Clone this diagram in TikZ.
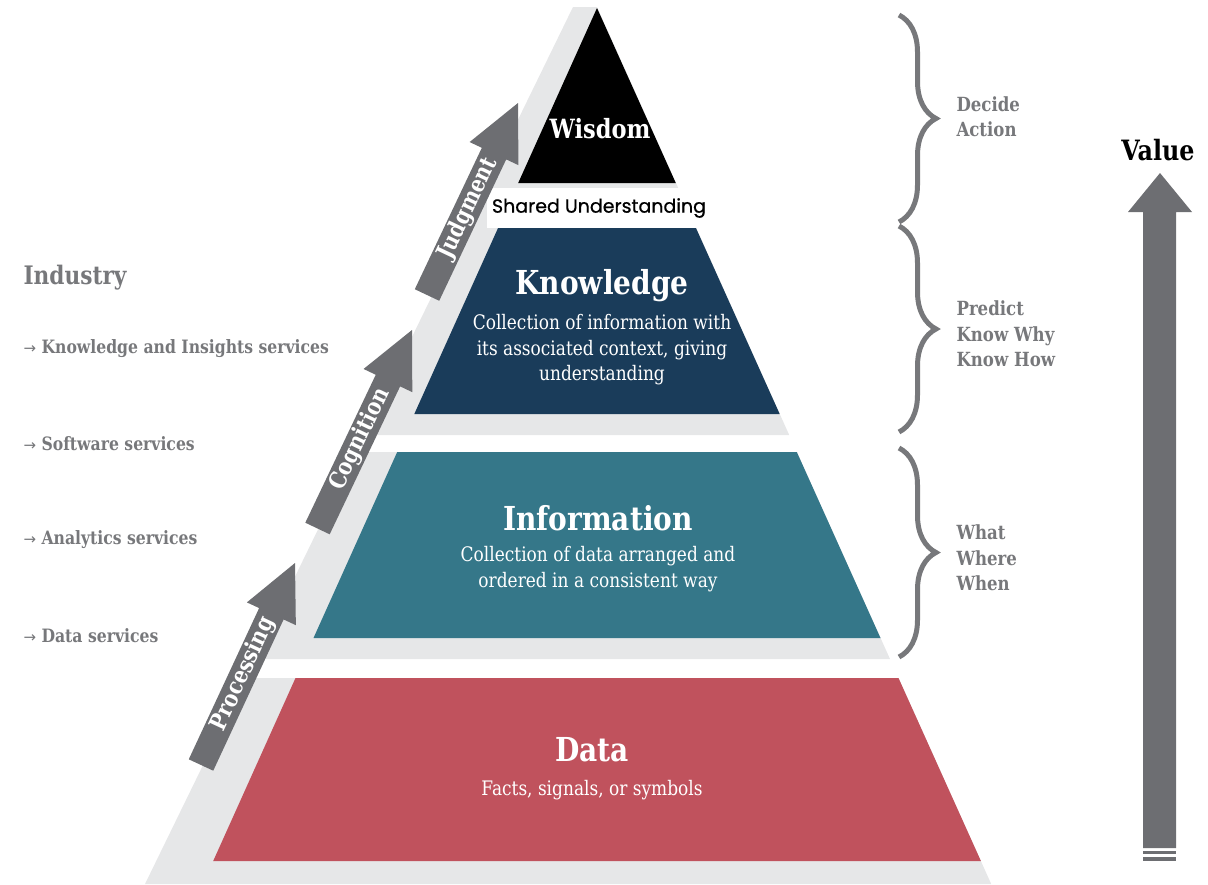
\documentclass[tikz,border=0pt]{standalone}
\usepackage{fontspec}
\setmainfont{DejaVu Serif}[FakeStretch=0.85]
\newfontfamily\sharedfont{Poppins}[FakeBold=0.7]
\newfontfamily\arrowfont{DejaVu Sans}
\usetikzlibrary{%
  calc,%
  decorations.pathreplacing,%
}
\definecolor{bandgray}{HTML}{E6E7E8}
\definecolor{arrowgray}{HTML}{6D6E72}
\definecolor{labelgray}{HTML}{77787B}
\definecolor{knownavy}{HTML}{1A3C5A}
\definecolor{infoteal}{HTML}{357789}
\definecolor{datared}{HTML}{C0525D}

\begin{document}
\begin{tikzpicture}[x=1pt, y=-1pt,
    title/.style={text=white, font=\bfseries\fontsize{33}{38}\selectfont},
    blurb/.style={text=white, align=center, font=\fontsize{20}{25.5}\selectfont},
    sidenote/.style={text=labelgray, anchor=west, align=left, font=\bfseries\fontsize{18.4}{25.5}\selectfont},
    flowtext/.style={text=white, sloped, pos=0.45, font=\bfseries\fontsize{23.5}{26}\selectfont},
    tier/.style={decorate, decoration={brace, amplitude=37pt}, draw=labelgray, line width=5pt}]
      \useasboundingbox (0,0) rectangle (1208,884);
      \fill[bandgray] (573,7) -- (597,7) -- (789.2,435) -- (364.1,435) -- cycle;
      \fill[bandgray] (355.8,452) -- (796.8,452) -- (890,659) -- (254.8,659) -- cycle;
      \fill[bandgray] (245.5,678) -- (898.5,678) -- (991.2,884) -- (145,884) -- cycle;
      \fill[black] (597,8) -- (675.8,183) -- (518.2,183) -- cycle;
      \fill[knownavy] (498.5,227) -- (695.5,227) -- (779.7,414) -- (414.3,414) -- cycle;
      \fill[infoteal] (397.2,452) -- (796.8,452) -- (880.5,638) -- (313.5,638) -- cycle;
      \fill[datared] (295.5,678) -- (898.5,678) -- (980.9,861) -- (213.2,861) -- cycle;
      \node [title, font=\bfseries\fontsize{26.5}{32}\selectfont] (wisdom) at (600,129) {Wisdom};
      \node [fill=white, minimum height=40pt, inner xsep=5pt, font=\sharedfont\fontsize{19}{22}\selectfont] (shared) at (599,208) {Shared Understanding};
      \node [title] (knowledge) at (602,286) {Knowledge};
      \node [blurb] (knowtext) at ([yshift=-64pt]knowledge.center) {Collection of information with\\its associated context, giving\\understanding};
      \node [title] (information) at (598,518) {Information};
      \node [blurb] (infotext) at ([yshift=-51pt]information.center) {Collection of data arranged and\\ordered in a consistent way};
      \node [title] (data) at (592,750) {Data};
      \node [blurb] (datatext) at ([yshift=-40pt]data.center) {Facts, signals, or symbols};
      \coordinate (proctail) at (201,765);
      \coordinate (proctip) at (295,563);
      \coordinate (cogntail) at (317.5,528.5);
      \coordinate (cogntip) at (412,330);
      \coordinate (judgtail) at (427,295);
      \coordinate (judgtip) at (518,103);
      \foreach \step/\word in {proc/Processing, cogn/Cognition, judg/Judgment} {
        \coordinate (\step head) at ($(\step tip)!56pt!(\step tail)$);
        \fill[arrowgray] ($(\step tail)!13.5pt!90:(\step tip)$) -- ($(\step head)!13.5pt!90:(\step tip)$) -- ($(\step head)!27pt!90:(\step tip)$) -- (\step tip)
          -- ($(\step head)!27pt!-90:(\step tip)$) -- ($(\step head)!13.5pt!-90:(\step tip)$) -- ($(\step tail)!13.5pt!-90:(\step tip)$) -- cycle;
        \path (\step tail) -- (\step tip) node [flowtext] (\step label) {\word};
      }
      \node [sidenote, font=\bfseries\fontsize{25.5}{30}\selectfont] (industry) at (20,278) {Industry};
      \node [sidenote] (insights) at (20,349) {{\arrowfont\mdseries\fontsize{15}{15}\selectfont →} Knowledge and Insights services};
      \node [sidenote] (software) at (20,444) {{\arrowfont\mdseries\fontsize{15}{15}\selectfont →} Software services};
      \node [sidenote] (analytics) at (20,540) {{\arrowfont\mdseries\fontsize{15}{15}\selectfont →} Analytics services};
      \node [sidenote] (dataserv) at (20,636) {{\arrowfont\mdseries\fontsize{15}{15}\selectfont →} Data services};
      \draw [tier] (899,15) -- (899,222);
      \draw [tier] (899,226) -- (899,432);
      \draw [tier] (899,448) -- (899,657);
      \node [sidenote, font=\bfseries\fontsize{19.5}{25.5}\selectfont] (decide) at (953,116.5) {Decide\\Action};
      \node [sidenote, font=\bfseries\fontsize{19.5}{25.5}\selectfont] (predict) at (953,334) {Predict\\Know Why\\Know How};
      \node [sidenote, font=\bfseries\fontsize{19.5}{25.5}\selectfont] (what) at (953,558) {What\\Where\\When};
      \node [font=\bfseries\fontsize{28}{32}\selectfont] (value) at (1158,150) {Value};
      \fill[arrowgray] (1143,848) -- (1143,212) -- (1128,212) -- (1160,173) -- (1192,212) -- (1176,212) -- (1176,848) -- cycle;
      \fill[arrowgray] (1143,851) rectangle (1176,854);
      \fill[arrowgray] (1143,857) rectangle (1176,861);
    \end{tikzpicture}
\end{document}
